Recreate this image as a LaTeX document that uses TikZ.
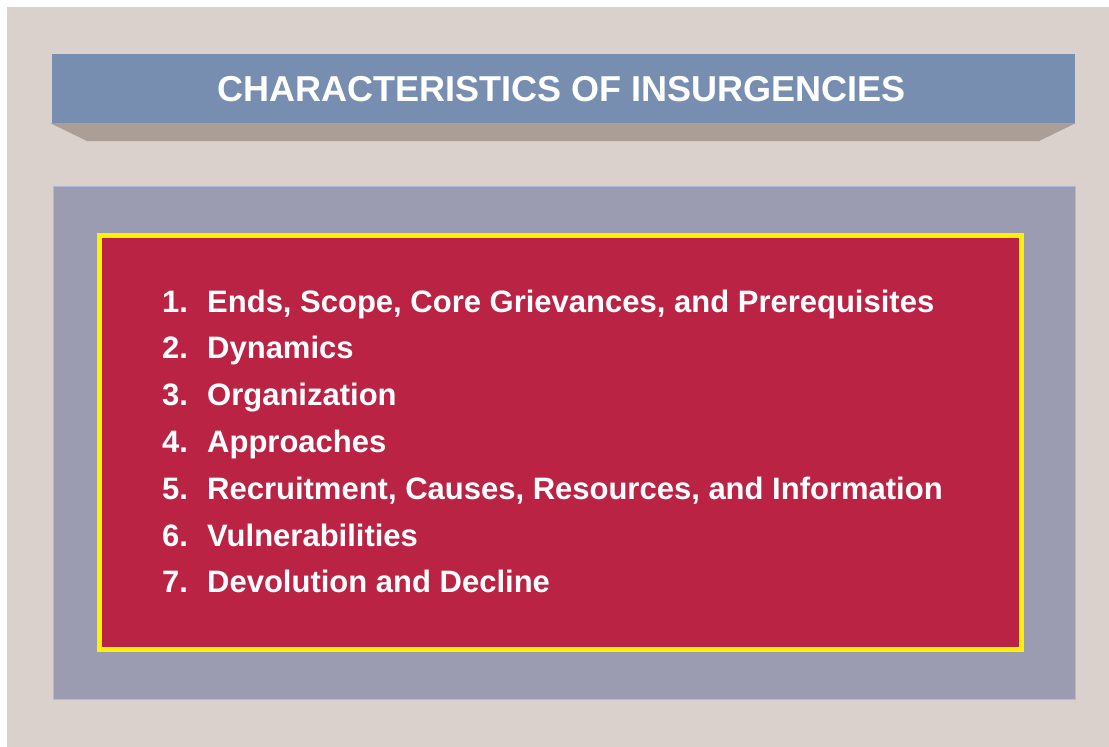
\documentclass[tikz,border=0pt]{standalone}
\usepackage{fontspec}
\setmainfont{Liberation Sans}
\definecolor{bgbeige}{HTML}{DAD1CC}
\definecolor{hdrblue}{HTML}{788EB0}
\definecolor{hdrshadow}{HTML}{AA9E96}
\definecolor{panelgrey}{HTML}{9B9CB2}
\definecolor{paneledge}{HTML}{AEB8D8}
\definecolor{frameyellow}{HTML}{FFF200}
\definecolor{listred}{HTML}{BB2345}
\tikzset{
  numtxt/.style={anchor=base west, inner sep=0pt, text=white, font=\bfseries\fontsize{31}{36}\selectfont},
  itemtxt/.style={anchor=base west, inner sep=0pt, text=white, font=\bfseries\fontsize{31}{36}\selectfont},
  titletxt/.style={inner sep=0pt, text=white, font=\bfseries\fontsize{36}{42}\selectfont}
}
\begin{document}
\begin{tikzpicture}[x=1pt,y=-1pt]
\useasboundingbox (0,0) rectangle (1109,747);
\fill[white] (0,0) rectangle (1109,747);
\fill[bgbeige] (7,7) rectangle (1109,747);
% header shadow
\fill[hdrshadow] (50,123) -- (1076,123) -- (1039,141) -- (87,141) -- cycle;
% header
\fill[hdrblue] (52,54) rectangle (1075,123);
\node[titletxt] (title) at (562,89) {CHARACTERISTICS OF INSURGENCIES};
% panel
\filldraw[fill=panelgrey, draw=paneledge, line width=1pt] (53,186) rectangle (1075,699);
% red list box with yellow frame
\filldraw[fill=listred, draw=frameyellow, line width=5pt] (99.5,235.5) rectangle (1021.5,649.5);
% items
\foreach \n/\t [count=\i from 0] in {1/{Ends, Scope, Core Grievances, and Prerequisites},2/Dynamics,3/Organization,4/Approaches,5/{Recruitment, Causes, Resources, and Information},6/Vulnerabilities,7/Devolution and Decline}{
  \node[numtxt] (num\n) at (162,{312+46.8*\i}) {\n.};
  \node[itemtxt] (item\n) at (207,{312+46.8*\i}) {\t};
}
\end{tikzpicture}
\end{document}
